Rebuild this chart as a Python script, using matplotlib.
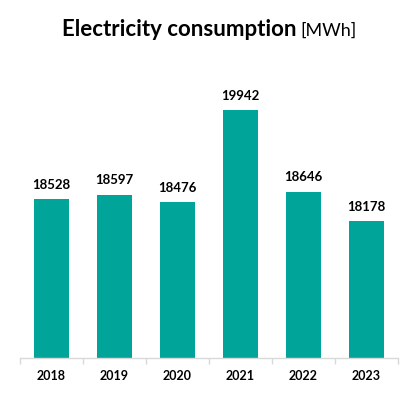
import numpy as np
import matplotlib.pyplot as plt

years = ["2018", "2019", "2020", "2021", "2022", "2023"]
consumption = [18528, 18597, 18476, 19942, 18646, 18178]

bar_color = "#00A499"
grid_color = "#D9D9D9"

plt.rcParams["font.family"] = ["Lato", "DejaVu Sans"]

fig = plt.figure(figsize=(4.19, 4.16), dpi=100)
ax = fig.add_axes([20 / 419, 58 / 416, 378 / 419, 283 / 416])

x = np.arange(len(years))
bars = ax.bar(x, consumption, width=0.556, color=bar_color)

ax.set_xlim(-0.5, len(years) - 0.5)
ax.set_ylim(16000, 20500)

for rect, val in zip(bars, consumption):
    ax.annotate(str(val), (rect.get_x() + rect.get_width() / 2, val),
                xytext=(0, 6), textcoords="offset points",
                ha="center", va="bottom", fontsize=9.5, fontweight="bold")

# category labels, boundary ticks
ax.set_xticks(x)
ax.set_xticklabels(years, fontsize=9, fontweight="bold")
ax.set_xticks(np.arange(-0.5, len(years)), minor=True)
ax.tick_params(axis="x", which="major", length=0, pad=9)
ax.tick_params(axis="x", which="minor", length=4, color=grid_color, width=1)
ax.set_yticks([])

for s in ["left", "right", "top"]:
    ax.spines[s].set_visible(False)
ax.spines["bottom"].set_color(grid_color)
ax.spines["bottom"].set_linewidth(1)

fig.text(296 / 419, 1 - 30 / 416, "Electricity consumption", ha="right", va="center",
         fontsize=16, fontweight="bold")
fig.text(300 / 419, 1 - 31 / 416, "[MWh]", ha="left", va="center", fontsize=13)

fig.savefig("out.png", dpi=100)
